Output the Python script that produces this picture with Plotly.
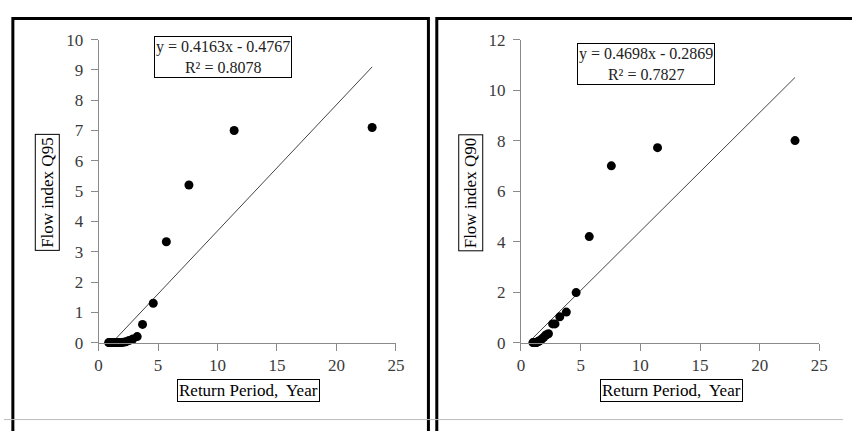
import plotly.graph_objects as go

# ---- data ----
q95_x = [23.0, 11.4, 7.6, 5.7, 4.6, 3.7, 3.25, 2.88, 2.56, 2.3, 2.09, 1.92, 1.77,
         1.64, 1.53, 1.44, 1.35, 1.28, 1.21, 1.15, 1.1, 1.05, 1.0, 0.92, 0.85]
q95_y = [7.1, 7.0, 5.2, 3.33, 1.3, 0.6, 0.2, 0.12, 0.07, 0.03, 0.01, 0.0, 0.0,
         0.0, 0.0, 0.0, 0.0, 0.0, 0.0, 0.0, 0.0, 0.0, 0.0, 0.0, 0.0]
q95_slope, q95_icept = 0.4163, -0.4767
q95_eq = "y = 0.4163x - 0.4767<br>R² = 0.8078"

q90_x = [22.96, 11.44, 7.57, 5.72, 4.62, 3.8, 3.25, 2.85, 2.65, 2.3, 2.09, 1.92, 1.77,
         1.64, 1.51, 1.44, 1.35, 1.28, 1.21, 1.15, 1.08, 1.0]
q90_y = [8.0, 7.72, 7.0, 4.2, 1.98, 1.21, 1.02, 0.74, 0.74, 0.35, 0.3, 0.22, 0.15,
         0.1, 0.06, 0.04, 0.02, 0.0, 0.0, 0.0, 0.0, 0.0]
q90_slope, q90_icept = 0.4698, -0.2869
q90_eq = "y = 0.4698x - 0.2869<br>R² = 0.7827"

x_range = [0, 25]
x_ticks = [0, 5, 10, 15, 20, 25]
q95_range, q95_ticks = [0, 10], [0, 1, 2, 3, 4, 5, 6, 7, 8, 9, 10]
q90_range, q90_ticks = [0, 12], [0, 2, 4, 6, 8, 10, 12]
x_title = "Return Period,  Year"
q95_title = "Flow index Q95"
q90_title = "Flow index Q90"

W, H = 852, 431
FONT = "Liberation Serif"


def px(x):
    return x / W


def py(y):
    return 1 - y / H


def trend(xs, slope, icept):
    x0 = max(min(xs), -icept / slope)
    x1 = max(xs)
    return [x0, x1], [slope * x0 + icept, slope * x1 + icept]


fig = go.Figure()

tx, ty = trend(q95_x, q95_slope, q95_icept)
fig.add_trace(go.Scatter(x=tx, y=ty, mode="lines", line=dict(color="#444444", width=1),
                         xaxis="x", yaxis="y", hoverinfo="skip"))
fig.add_trace(go.Scatter(x=q95_x, y=q95_y, mode="markers",
                         marker=dict(color="black", size=9), xaxis="x", yaxis="y", cliponaxis=False))

tx, ty = trend(q90_x, q90_slope, q90_icept)
fig.add_trace(go.Scatter(x=tx, y=ty, mode="lines", line=dict(color="#444444", width=1),
                         xaxis="x2", yaxis="y2", hoverinfo="skip"))
fig.add_trace(go.Scatter(x=q90_x, y=q90_y, mode="markers",
                         marker=dict(color="black", size=9), xaxis="x2", yaxis="y2", cliponaxis=False))

ydom = [py(349), py(32)]
axcommon = dict(showgrid=False, zeroline=False, showline=True, linecolor="#8a8a8a", linewidth=1,
                ticks="outside", ticklen=7, tickcolor="#8a8a8a",
                tickfont=dict(family=FONT, size=17, color="#3a3a3a"), fixedrange=True)

fig.update_layout(
    autosize=True, margin=dict(l=0, r=0, t=0, b=0),
    paper_bgcolor="white", plot_bgcolor="white", showlegend=False,
    xaxis=dict(domain=[px(96), px(398)], range=x_range, tickvals=x_ticks, anchor="y", **axcommon),
    yaxis=dict(domain=ydom, range=q95_range, tickvals=q95_ticks, anchor="x", ticklabelstandoff=4, **axcommon),
    xaxis2=dict(domain=[px(525), px(828)], range=x_range, tickvals=x_ticks, anchor="y2", **axcommon),
    yaxis2=dict(domain=ydom, range=q90_range, tickvals=q90_ticks, anchor="x2", ticklabelstandoff=4, **axcommon),
)

ann_font = dict(family=FONT, size=17, color="black")
eq_font = dict(family=FONT, size=16, color="#222222")
box = dict(bordercolor="black", borderwidth=1, bgcolor="white", showarrow=False,
           xref="paper", yref="paper", xanchor="center", yanchor="middle")

annotations = [
    dict(text=q95_eq, x=px(222), y=py(50), font=eq_font, borderpad=1, **box),
    dict(text=q90_eq, x=px(652), y=py(58), font=eq_font, borderpad=1, **box),
    dict(text=x_title, x=px(248), y=py(399), font=ann_font, borderpad=1, **box),
    dict(text=x_title, x=px(678), y=py(399), font=ann_font, borderpad=1, **box),
    dict(text=q95_title, x=px(44), y=py(192), textangle=-90, font=ann_font, borderpad=2, **box),
    dict(text=q90_title, x=px(474), y=py(192), textangle=-90, font=ann_font, borderpad=2, **box),
]
fig.update_layout(annotations=annotations)

shapes = [
    # panel frames
    dict(type="rect", xref="paper", yref="paper", x0=px(9), x1=px(431), y0=py(445), y1=py(10),
         line=dict(color="black", width=3)),
    dict(type="rect", xref="paper", yref="paper", x0=px(439.5), x1=px(870), y0=py(445), y1=py(10),
         line=dict(color="black", width=3)),
    # light grey bottom line
    dict(type="line", xref="paper", yref="paper", x0=0, x1=1, y0=py(429.5), y1=py(429.5),
         line=dict(color="#bbbbbb", width=1)),
]
fig.update_layout(shapes=shapes)

fig.write_html("out.html", config={"displayModeBar": False},
               default_width="100vw",
               default_height="100vh; position:fixed; top:0; left:0; margin:0")
